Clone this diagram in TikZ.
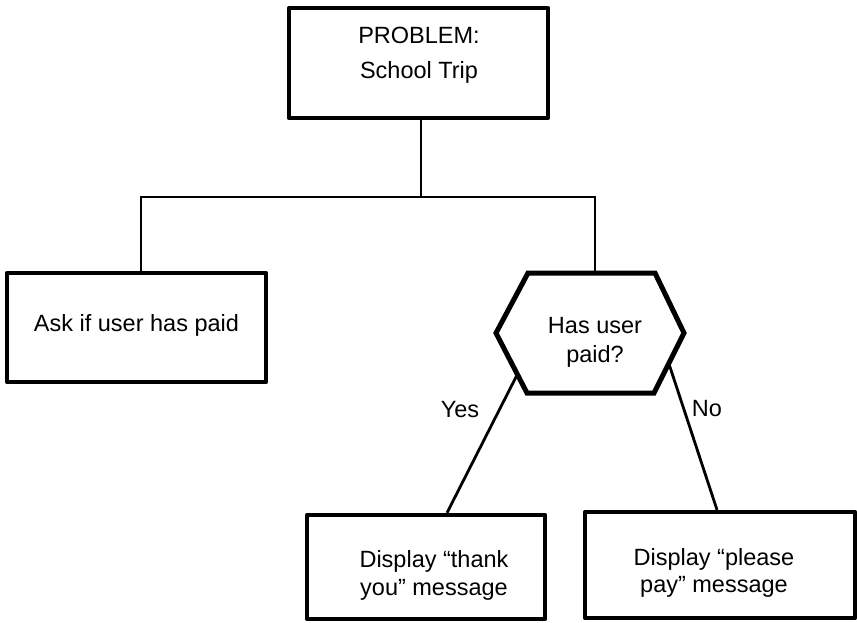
\documentclass[tikz,border=0pt]{standalone}
\usepackage{fontspec}
\setmainfont{Liberation Sans}
\begin{document}
\begin{tikzpicture}[x=1pt,y=-1pt,
  box/.style={draw, line width=4.3pt, inner sep=0pt, line join=round},
  hexline/.style={line width=5pt, line join=miter},
  conn/.style={line width=2.8pt},
  lbl/.style={font=\fontsize{23.5}{28}\selectfont, anchor=base, inner sep=0pt}]
\useasboundingbox (0,0) rectangle (857,622);
% boxes
\node[box, minimum width=259pt, minimum height=110pt] (top) at (418.5,63) {};
\node[box, minimum width=259pt, minimum height=109pt] (ask) at (136.5,327.5) {};
\node[box, minimum width=238pt, minimum height=104pt] (thank) at (426,567) {};
\node[box, minimum width=270pt, minimum height=106pt] (please) at (720,565) {};
% hexagon
\draw[hexline] (496,333) coordinate (hL) -- (528,273) coordinate (hTL)
  -- (655,273) coordinate (hTR) -- (684,333) coordinate (hR)
  -- (654,393) coordinate (hBR) -- (527,393) coordinate (hBL) -- cycle;
% connectors
\coordinate (j) at (421,197);
\coordinate (jl) at (141,197);
\coordinate (jr) at (595,197);
\draw[conn] (top.south -| j) -- (j);
\draw[conn] (jl |- ask.north) -- (jl) -- (jr) -- (jr |- hTL);
\coordinate (yesA) at (517,375);
\coordinate (noA) at (669,364);
\draw[conn] (yesA) -- ([xshift=21pt]thank.north);
\draw[conn] (noA) -- ([xshift=-3pt]please.north);
% texts
\node[lbl] (t1) at (419,43) {PROBLEM:};
\node[lbl] (t2) at (419,78) {School Trip};
\node[lbl] (t3) at (136.5,331) {Ask if user has paid};
\node[lbl] (t4) at (595,333) {Has user};
\node[lbl] (t5) at (595,362) {paid?};
\node[lbl] (t6) at (434,567) {Display “thank};
\node[lbl] (t7) at (434,595) {you” message};
\node[lbl] (t8) at (714,565) {Display “please};
\node[lbl] (t9) at (714,592) {pay” message};
\node[lbl] (yes) at (460,417) {Yes};
\node[lbl] (no) at (707,416) {No};
\end{tikzpicture}
\end{document}
